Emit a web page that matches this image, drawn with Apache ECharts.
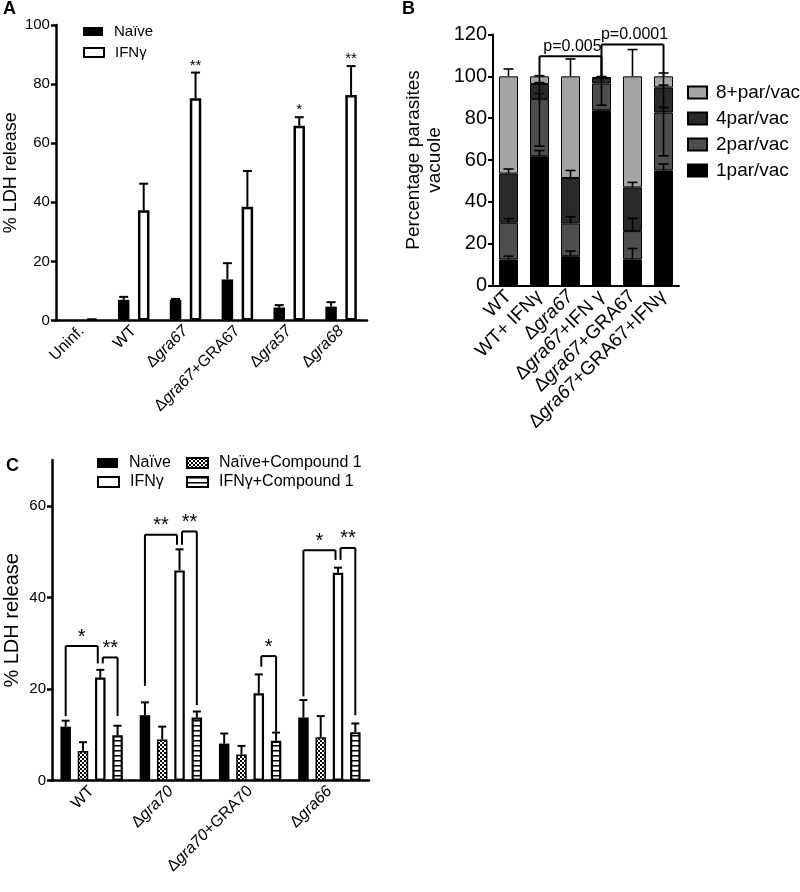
<!DOCTYPE html>
<html><head><meta charset="utf-8">
<script src="https://cdn.jsdelivr.net/npm/echarts@6/dist/echarts.min.js"></script>
<style>html,body{margin:0;padding:0;background:#fff}#c{width:800px;height:892px}</style>
</head><body><div id="c"></div>
<script>
// ---------- Panel A data ----------
const catsA = ['Uninf.', 'WT', 'Δgra67', 'Δgra67+GRA67', 'Δgra57', 'Δgra68'];
const naiveA = [0, 7.0, 7.0, 13.9, 4.4, 4.7];
const naiveSdA = [0, 1.0, 0.3, 5.5, 0.8, 1.5];
const ifnA = [0.7, 37.3, 75.2, 38.5, 65.9, 76.3];
const ifnSdA = [0, 9.0, 8.7, 12.1, 2.9, 9.8];
const starsA = ['', '', '**', '', '*', '**'];
const ticksA = [0, 20, 40, 60, 80, 100];

// ---------- Panel B data ----------
const catsB = ['WT', 'WT+ IFNγ', 'Δgra67', 'Δgra67+IFN γ', 'Δgra67+GRA67', 'Δgra67+GRA67+IFNγ'];
const par1 = [12.4, 61.8, 14.0, 83.8, 12.5, 55.0];
const par2 = [17.6, 27.3, 15.7, 12.8, 13.5, 27.7];
const par4 = [23.5, 7.2, 21.7, 2.6, 20.9, 12.0];
const par8 = [46.5, 3.7, 48.6, 0.5, 53.1, 5.3];
const sd1 = [1.6, 2.7, 2.5, 0, 5.2, 3.1];
const sd2 = [2.0, 2.7, 3.2, 0, 6.1, 2.4];
const sd4 = [2.2, 0.7, 3.6, 0.4, 2.4, 1.1];
const sd8 = [3.5, 0.3, 8.3, 0.2, 12.8, 1.6];
const lowB = [null, 66.6, null, 86.2, null, 62.0];
const pFrom = [1, 3];
const pTo = [3, 5];
const pTop = [109.6, 115.2];
const pText = ['p=0.005', 'p=0.0001'];

// ---------- Panel C data ----------
const catsC = ['WT', 'Δgra70', 'Δgra70+GRA70', 'Δgra66'];
const naiveC = [11.8, 14.3, 8.1, 13.8];
const naiveSdC = [1.3, 2.8, 2.2, 3.8];
const naiveCpC = [6.5, 9.0, 5.7, 9.5];
const naiveCpSdC = [1.9, 2.8, 1.9, 4.6];
const ifnC = [22.5, 45.9, 19.1, 45.4];
const ifnSdC = [1.7, 4.6, 4.1, 1.1];
const ifnCpC = [9.9, 13.8, 8.7, 10.6];
const ifnCpSdC = [2.1, 1.3, 1.8, 1.9];
// brackets: category, left bar, right bar, top, left leg bottom, right leg bottom, label
const sigCat = [0, 0, 1, 1, 2, 3, 3];
const sigA = [0, 2, 0, 2, 2, 0, 2];
const sigB = [2, 3, 2, 3, 3, 2, 3];
const sigTop = [29.4, 26.9, 53.7, 54.4, 27.2, 50.3, 50.8];
const sigBotA = [14.1, 25.6, 20.7, 51.5, 24.9, 18.4, 48.2];
const sigBotB = [25.6, 14.1, 51.5, 16.5, 10.7, 48.2, 14.3];
const sigText = ['*', '**', '**', '**', '*', '*', '**'];

// ---------- styling / layout ----------
const FF = '"Liberation Sans", Arial, Helvetica, sans-serif';
const BW_A = 11.5, GAP_A = 8.5;
const BW_C = 10.5, GAP_C = 6.8;
const BW_B = 19;

function fmtCat(s) { return s.replace(/(gra\d+)/, '{i|$1}'); }

function mkChecker() {
  const c = document.createElement('canvas'); c.width = 4; c.height = 4;
  const g = c.getContext('2d');
  g.fillStyle = '#fff'; g.fillRect(0, 0, 4, 4);
  g.fillStyle = '#000'; g.fillRect(0, 0, 2, 2); g.fillRect(2, 2, 2, 2);
  return c;
}
function mkStripes() {
  const c = document.createElement('canvas'); c.width = 4; c.height = 5;
  const g = c.getContext('2d');
  g.fillStyle = '#fff'; g.fillRect(0, 0, 4, 5);
  g.fillStyle = '#000'; g.fillRect(0, 0, 4, 1);
  g.fillStyle = '#777'; g.fillRect(0, 1, 4, 1);
  return c;
}
const checker = { image: mkChecker(), repeat: 'repeat' };
const stripes = { image: mkStripes(), repeat: 'repeat' };

function xAxisCfg(gi, cats, fs, lw) {
  return {
    type: 'category', gridIndex: gi, data: cats.map(fmtCat),
    axisLine: { lineStyle: { color: '#000', width: lw } },
    axisTick: { alignWithLabel: true, length: 5, lineStyle: { color: '#000', width: lw } },
    axisLabel: {
      rotate: 45, interval: 0, color: '#000', fontFamily: FF, fontSize: fs, margin: 8,
      rich: { i: { fontStyle: 'italic', fontFamily: FF, fontSize: fs, color: '#000' } }
    }
  };
}
function yAxisCfg(gi, max, interval, fs, lw, name, nfs, gap, extra) {
  return Object.assign({
    type: 'value', gridIndex: gi, min: 0, max: max, interval: interval,
    axisLine: { show: true, lineStyle: { color: '#000', width: lw } },
    axisTick: { show: true, length: 5, lineStyle: { color: '#000', width: lw } },
    splitLine: { show: false },
    axisLabel: { color: '#000', fontFamily: FF, fontSize: fs, margin: 6 },
    name: name, nameLocation: 'middle', nameGap: gap, nameRotate: 90,
    nameTextStyle: { color: '#000', fontFamily: FF, fontSize: nfs, lineHeight: nfs + 2 }
  }, extra || {});
}

// error bar custom series: items [cat, barIndex, from, to]
function errSeries(ai, items, n, step, cap, lw) {
  return {
    type: 'custom', xAxisIndex: ai, yAxisIndex: ai, z: 6, silent: true,
    encode: { x: 0, y: [2, 3] },
    data: items,
    renderItem: function (params, api) {
      const cat = api.value(0), bi = api.value(1), v0 = api.value(2), v1 = api.value(3);
      const p0 = api.coord([cat, v0]), p1 = api.coord([cat, v1]);
      const x = p0[0] + (bi - (n - 1) / 2) * step;
      const st = { stroke: '#000', lineWidth: lw };
      return { type: 'group', children: [
        { type: 'line', shape: { x1: x, y1: p0[1], x2: x, y2: p1[1] }, style: st },
        { type: 'line', shape: { x1: x - cap, y1: p1[1], x2: x + cap, y2: p1[1] }, style: st }
      ] };
    }
  };
}
function errItems(vals, sds, bi) {
  const out = [];
  vals.forEach((v, i) => { if (sds[i] > 0) out.push([i, bi, v, v + sds[i]]); });
  return out;
}

// ---------- build series ----------
const series = [];
// A bars
series.push({ type: 'bar', name: 'Naïve', xAxisIndex: 0, yAxisIndex: 0, data: naiveA,
  barWidth: BW_A, barGap: (GAP_A / BW_A * 100) + '%', itemStyle: { color: '#000' } });
series.push({ type: 'bar', name: 'IFNγ', xAxisIndex: 0, yAxisIndex: 0, data: ifnA,
  barWidth: BW_A, barGap: (GAP_A / BW_A * 100) + '%',
  itemStyle: { color: '#fff', borderColor: '#000', borderWidth: 2.5 } });
series.push(errSeries(0, errItems(naiveA, naiveSdA, 0).concat(errItems(ifnA, ifnSdA, 1)), 2, BW_A + GAP_A, 4.5, 2));
// A stars
const starItemsA = [];
starsA.forEach((s, i) => { if (s) starItemsA.push([i, ifnA[i] + ifnSdA[i]]); });
const starTxtA = starsA.filter(s => s);
series.push({ type: 'custom', xAxisIndex: 0, yAxisIndex: 0, z: 7, silent: true, encode: { x: 0, y: 1 },
  data: starItemsA,
  renderItem: function (params, api) {
    const p = api.coord([api.value(0), api.value(1)]);
    const x = p[0] + 0.5 * (BW_A + GAP_A);
    return { type: 'text', x: x, y: p[1] - 7,
      style: { text: starTxtA[params.dataIndex], fill: '#000', font: '15px ' + FF, align: 'center', verticalAlign: 'middle' } };
  } });

// B stacked bars
const bNames = ['1par/vac', '2par/vac', '4par/vac', '8+par/vac'];
const bVals = [par1, par2, par4, par8];
const bSds = [sd1, sd2, sd4, sd8];
const bCols = ['#000000', '#4e4e4e', '#2a2a2a', '#a5a5a5'];
bVals.forEach((arr, k) => {
  series.push({ type: 'bar', name: bNames[k], xAxisIndex: 1, yAxisIndex: 1, stack: 'b', data: arr,
    barWidth: BW_B, itemStyle: { color: bCols[k], borderColor: '#000', borderWidth: 1 } });
});
const cum = [[], [], [], []];
catsB.forEach((c, i) => { let s = 0; for (let k = 0; k < 4; k++) { s += bVals[k][i]; cum[k][i] = s; } });
const bErr = [];
for (let k = 0; k < 4; k++) catsB.forEach((c, i) => { if (bSds[k][i] > 0) bErr.push([i, 0, cum[k][i], cum[k][i] + bSds[k][i]]); });
lowB.forEach((v, i) => { if (v !== null) bErr.push([i, 0, cum[3][i], v]); });
series.push(errSeries(1, bErr, 1, 0, 5, 1.6));
// B p-value brackets
series.push({ type: 'custom', xAxisIndex: 1, yAxisIndex: 1, z: 7, silent: true, encode: { x: 0, y: 1 },
  data: pFrom.map((f, j) => [f, pTop[j]]),
  renderItem: function (params, api) {
    const j = params.dataIndex;
    const a = pFrom[j], b = pTo[j];
    const pa = api.coord([a, pTop[j]]), pb = api.coord([b, pTop[j]]);
    const ya = api.coord([a, cum[3][a]])[1], yb = api.coord([b, cum[3][b]])[1];
    const st = { stroke: '#000', lineWidth: 2 };
    return { type: 'group', children: [
      { type: 'line', shape: { x1: pa[0], y1: ya, x2: pa[0], y2: pa[1] }, style: st },
      { type: 'line', shape: { x1: pa[0], y1: pa[1], x2: pb[0], y2: pb[1] }, style: st },
      { type: 'line', shape: { x1: pb[0], y1: pb[1], x2: pb[0], y2: yb }, style: st },
      { type: 'text', x: (pa[0] + pb[0]) / 2 + 2, y: pa[1] - 2,
        style: { text: pText[j], fill: '#000', font: '16px ' + FF, align: 'center', verticalAlign: 'bottom' } }
    ] };
  } });

// C bars
const cStep = BW_C + GAP_C;
const cGap = (GAP_C / BW_C * 100) + '%';
series.push({ type: 'bar', name: 'Naïve', xAxisIndex: 2, yAxisIndex: 2, data: naiveC,
  barWidth: BW_C, barGap: cGap, itemStyle: { color: '#000' } });
series.push({ type: 'bar', name: 'Naïve+Compound 1', xAxisIndex: 2, yAxisIndex: 2, data: naiveCpC,
  barWidth: BW_C, barGap: cGap, itemStyle: { color: checker, borderColor: '#000', borderWidth: 1.5 } });
series.push({ type: 'bar', name: 'IFNγ', xAxisIndex: 2, yAxisIndex: 2, data: ifnC,
  barWidth: BW_C, barGap: cGap, itemStyle: { color: '#fff', borderColor: '#000', borderWidth: 2.2 } });
series.push({ type: 'bar', name: 'IFNγ+Compound 1', xAxisIndex: 2, yAxisIndex: 2, data: ifnCpC,
  barWidth: BW_C, barGap: cGap, itemStyle: { color: stripes, borderColor: '#000', borderWidth: 2.2 } });
series.push(errSeries(2, errItems(naiveC, naiveSdC, 0).concat(errItems(naiveCpC, naiveCpSdC, 1),
  errItems(ifnC, ifnSdC, 2), errItems(ifnCpC, ifnCpSdC, 3)), 4, cStep, 4, 2));
// C brackets
series.push({ type: 'custom', xAxisIndex: 2, yAxisIndex: 2, z: 7, silent: true, encode: { x: 0, y: 1 },
  data: sigCat.map((c, j) => [c, sigTop[j]]),
  renderItem: function (params, api) {
    const j = params.dataIndex;
    const p = api.coord([sigCat[j], sigTop[j]]);
    let xa = p[0] + (sigA[j] - 1.5) * cStep;
    let xb = p[0] + (sigB[j] - 1.5) * cStep;
    if (sigB[j] === 2) xb -= 2.5;
    if (sigA[j] === 2) xa += 2.5;
    const ya = api.coord([sigCat[j], sigBotA[j]])[1], yb = api.coord([sigCat[j], sigBotB[j]])[1];
    const st = { stroke: '#000', lineWidth: 2 };
    return { type: 'group', children: [
      { type: 'line', shape: { x1: xa, y1: ya, x2: xa, y2: p[1] }, style: st },
      { type: 'line', shape: { x1: xa, y1: p[1], x2: xb, y2: p[1] }, style: st },
      { type: 'line', shape: { x1: xb, y1: p[1], x2: xb, y2: yb }, style: st },
      { type: 'text', x: (xa + xb) / 2, y: p[1] - 9,
        style: { text: sigText[j], fill: '#000', font: '20px ' + FF, align: 'center', verticalAlign: 'middle' } }
    ] };
  } });

function oneLegend(name, left, top, w, h, fs) {
  return { data: [name], left: left, top: top, itemWidth: w, itemHeight: h, padding: 0, selectedMode: false,
    icon: 'rect', textStyle: { color: '#000', fontFamily: FF, fontSize: fs, padding: [0, 0, 0, 6] } };
}

const option = {
  animation: false,
  backgroundColor: '#fff',
  grid: [
    { left: 53, top: 25, width: 314, height: 295.5 },
    { left: 493, top: 34.5, width: 186, height: 251 },
    { left: 48, top: 460, width: 321, height: 320.7 }
  ],
  xAxis: [ xAxisCfg(0, catsA, 16, 2.5), xAxisCfg(1, catsB, 19, 2), xAxisCfg(2, catsC, 16, 2.5) ],
  yAxis: [
    yAxisCfg(0, 100, 20, 15, 2.5, '% LDH release', 18, 34),
    yAxisCfg(1, 120, 20, 20, 2, 'Percentage parasites\nvacuole', 19, 48),
    yAxisCfg(2, 70, 20, 15, 2.5, '% LDH release', 20, 29, {
      axisLabel: { color: '#000', fontFamily: FF, fontSize: 15, margin: 6, customValues: [0, 20, 40, 60] },
      axisTick: { show: true, length: 5, lineStyle: { color: '#000', width: 2.5 }, customValues: [0, 20, 40, 60] }
    })
  ],
  legend: [
    oneLegend('Naïve', 83, 24, 20, 9, 15),
    oneLegend('IFNγ', 83, 45, 20, 9, 15),
    { data: ['8+par/vac', '4par/vac', '2par/vac', '1par/vac'], orient: 'vertical', left: 687, top: 83,
      itemWidth: 19, itemHeight: 12, itemGap: 7, padding: 0, selectedMode: false, icon: 'rect',
      textStyle: { color: '#000', fontFamily: FF, fontSize: 19, padding: [0, 0, 0, 4] } },
    oneLegend('Naïve', 97, 455, 21, 10, 16),
    oneLegend('Naïve+Compound 1', 186, 455, 21, 10, 16),
    oneLegend('IFNγ', 97, 474, 21, 10, 16),
    oneLegend('IFNγ+Compound 1', 186, 474, 21, 10, 16)
  ],
  graphic: [
    { type: 'text', left: 3, top: 0, style: { text: 'A', font: 'bold 18px ' + FF, fill: '#000' } },
    { type: 'text', left: 402, top: 0, style: { text: 'B', font: 'bold 18px ' + FF, fill: '#000' } },
    { type: 'text', left: 6, top: 457, style: { text: 'C', font: 'bold 18px ' + FF, fill: '#000' } }
  ],
  series: series
};
const chart = echarts.init(document.getElementById('c'));
chart.setOption(option);
</script></body></html>
